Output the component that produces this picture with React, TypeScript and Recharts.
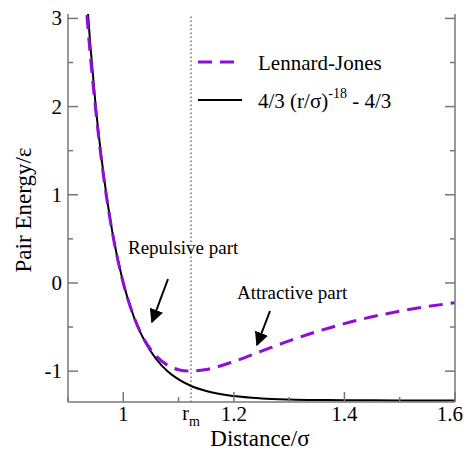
import React from 'react';
import { ComposedChart, Line, XAxis, YAxis, ReferenceLine } from 'recharts';

const distance = [0.92, 0.93, 0.94, 0.95, 0.96, 0.98, 1.0, 1.02, 1.04, 1.06, 1.08, 1.1, 1.12, 1.15, 1.2, 1.25, 1.3, 1.35, 1.4, 1.45, 1.5, 1.55, 1.6];
const lennardJones = [4.283, 3.373, 2.607, 1.97, 1.418, 0.582, 0, -0.398, -0.663, -0.832, -0.933, -0.984, -0.9996, -0.982, -0.891, -0.774, -0.657, -0.552, -0.461, -0.384, -0.32, -0.268, -0.224];
const repulsive = [4.648, 3.59, 2.728, 2.01, 1.447, 0.585, 0, -0.4, -0.675, -0.866, -1.0, -1.093, -1.16, -1.226, -1.283, -1.309, -1.321, -1.327, -1.33, -1.331, -1.332, -1.333, -1.333];
const xTicks = [0.9, 1.0, 1.1, 1.1225, 1.2, 1.3, 1.4, 1.5, 1.6];
const xMajor = ['1', '1.2', '1.4', '1.6'];
const yTicks = [-1, -0.5, 0, 0.5, 1, 1.5, 2, 2.5, 3];
const rm = 1.1225;

const data = distance.map((r, i) => ({ r, lj: lennardJones[i], rep: repulsive[i] }));

const FONT = '"Liberation Serif", "Times New Roman", "DejaVu Serif", serif';
const AXIS = '#777';
const txt = { fontFamily: FONT };

const BottomTick = ({ x, y, payload }: any) => {
  const v = payload.value;
  if (v === rm) {
    return (
      <text x={x} y={y + 18} textAnchor="middle" style={txt} fontSize={20} fill="#000">
        r<tspan fontSize={14} dy={6}>m</tspan>
      </text>
    );
  }
  const label = v === 1 ? '1' : v.toFixed(1);
  const major = xMajor.includes(label);
  const last = label === '1.6';
  return (
    <g>
      <line x1={x} x2={x} y1={y} y2={y - (major ? 10 : 5)} stroke={AXIS} strokeWidth={1.5} />
      {major && (
        <text x={last ? x + 8 : x} y={y + 19} textAnchor={last ? 'end' : 'middle'} style={txt} fontSize={21} fill="#000">{label}</text>
      )}
    </g>
  );
};

const TopTick = ({ x, y, payload }: any) => {
  const v = payload.value;
  if (v === rm) return null;
  const major = Math.abs((v * 10) % 2) < 0.01 || Math.abs((v * 10) % 2 - 2) < 0.01;
  return <line x1={x} x2={x} y1={y} y2={y + (major ? 10 : 5)} stroke={AXIS} strokeWidth={1.5} />;
};

const LeftTick = ({ x, y, payload }: any) => {
  const major = Number.isInteger(payload.value);
  return (
    <g>
      <line x1={x} x2={x + (major ? 10 : 5)} y1={y} y2={y} stroke={AXIS} strokeWidth={1.5} />
      {major && (
        <text x={x - 6} y={y + 7} textAnchor="end" style={txt} fontSize={21} fill="#000">{payload.value}</text>
      )}
    </g>
  );
};

const RightTick = ({ x, y, payload }: any) => {
  const major = Number.isInteger(payload.value);
  return <line x1={x} x2={x - (major ? 10 : 5)} y1={y} y2={y} stroke={AXIS} strokeWidth={1.5} />;
};

export default function App() {
  return (
    <div style={{ position: 'absolute', left: 0, top: 0, width: 466, height: 452, background: '#fff' }}>
      <ComposedChart width={466} height={452} data={data} margin={{ top: 14, right: 0, left: 0, bottom: 0 }}>
        <XAxis xAxisId="b" dataKey="r" type="number" domain={[0.9, 1.6]} ticks={xTicks} allowDataOverflow
          tick={<BottomTick />} tickLine={false} tickSize={0} tickMargin={0} height={50} interval={0}
          axisLine={{ stroke: AXIS, strokeWidth: 1.5 }} />
        <XAxis xAxisId="t" dataKey="r" type="number" orientation="top" domain={[0.9, 1.6]} ticks={xTicks} allowDataOverflow
          tick={<TopTick />} tickLine={false} tickSize={0} tickMargin={0} height={0} interval={0}
          axisLine={{ stroke: AXIS, strokeWidth: 1.5 }} />
        <YAxis yAxisId="l" type="number" domain={[-1.35, 3.05]} ticks={yTicks} allowDataOverflow interval={0}
          tick={<LeftTick />} tickLine={false} tickSize={0} tickMargin={0} width={68}
          axisLine={{ stroke: AXIS, strokeWidth: 1.5 }} />
        <YAxis yAxisId="r" orientation="right" type="number" domain={[-1.35, 3.05]} ticks={yTicks} allowDataOverflow interval={0}
          tick={<RightTick />} tickLine={false} tickSize={0} tickMargin={0} width={11}
          axisLine={{ stroke: AXIS, strokeWidth: 1.5 }} />
        <ReferenceLine xAxisId="b" yAxisId="l" x={rm} stroke="#555" strokeDasharray="1.5 2.5" strokeWidth={1.2} />
        <Line xAxisId="b" yAxisId="l" dataKey="rep" type="monotone" stroke="#000" strokeWidth={2} dot={false} isAnimationActive={false} />
        <Line xAxisId="b" yAxisId="l" dataKey="lj" type="monotone" stroke="#8b0fd6" strokeWidth={3} strokeDasharray="14 8" dot={false} isAnimationActive={false} />
      </ComposedChart>
      <svg width={466} height={452} style={{ position: 'absolute', left: 0, top: 0, pointerEvents: 'none' }}>
        <defs>
          <marker id="ah" viewBox="0 0 10 10" refX="9" refY="5" markerWidth="7" markerHeight="7" orient="auto">
            <path d="M0,0 L10,5 L0,10 z" fill="#000" />
          </marker>
        </defs>
        <g style={txt} fill="#000">
          <line x1={198} x2={240} y1={62} y2={62} stroke="#8b0fd6" strokeWidth={3} strokeDasharray="14 8" />
          <text x={258} y={70} fontSize={21}>Lennard-Jones</text>
          <line x1={198} x2={242} y1={100} y2={100} stroke="#000" strokeWidth={1.8} />
          <text x={258} y={108} fontSize={21}>4/3 (r/σ)<tspan dy={-10} fontSize={14}>-18</tspan><tspan dy={10}> - 4/3</tspan></text>
          <text x={128} y={254} fontSize={19}>Repulsive part</text>
          <line x1={168} x2={152} y1={279} y2={322} stroke="#000" strokeWidth={2} markerEnd="url(#ah)" />
          <text x={237} y={299} fontSize={19}>Attractive part</text>
          <line x1={270} x2={257} y1={311} y2={345} stroke="#000" strokeWidth={2} markerEnd="url(#ah)" />
          <text x={260} y={446} fontSize={23} textAnchor="middle">Distance/σ</text>
          <text transform="translate(31,210) rotate(-90)" fontSize={23} textAnchor="middle">Pair Energy/ε</text>
        </g>
      </svg>
    </div>
  );
}
